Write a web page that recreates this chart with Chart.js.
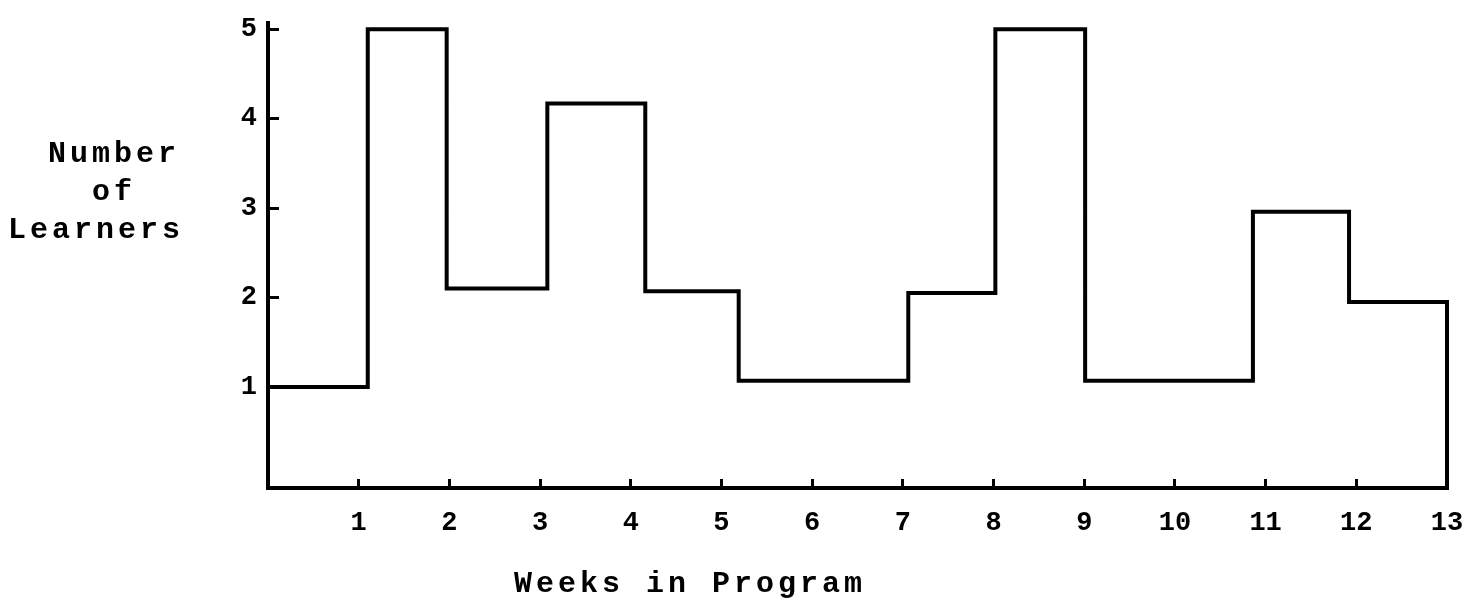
<!DOCTYPE html>
<html>
<head>
<meta charset="utf-8">
<script src="https://cdn.jsdelivr.net/npm/chart.js@4.4.1/dist/chart.umd.min.js"></script>
<style>
  html, body { margin: 0; padding: 0; background: #fff; }
  #grafico { display: block; }
</style>
</head>
<body>
<canvas id="grafico" width="1474" height="604"></canvas>
<script>
// Datos (histograma escalonado)
const weekEdges = [0, 1.1, 1.97, 3.08, 4.16, 5.19, 7.06, 8.02, 9.01, 10.86, 11.92, 13];
const learnerCounts = [1, 5, 2.1, 4.17, 2.07, 1.07, 2.05, 5, 1.07, 2.96, 1.95];
const weekTicks = [1, 2, 3, 4, 5, 6, 7, 8, 9, 10, 11, 12, 13];
const learnerTicks = [1, 2, 3, 4, 5];
const yTitleLines = ['Number', 'of', 'Learners'];
const xTitle = 'Weeks in Program';

const Y_MIN = -0.13;
const Y_MAX = 5.07;
const ctx = document.getElementById('grafico');

/* Puntos del escalon */
function build_points() {
  let puntos = [];
  weekEdges.forEach((x, i) => {
    if (i < learnerCounts.length) {
      puntos.push({ x: x, y: learnerCounts[i] });
    }
  });
  // cierre a la derecha hasta el eje
  puntos.push({ x: weekEdges[weekEdges.length - 1], y: learnerCounts[learnerCounts.length - 1] });
  puntos.push({ x: weekEdges[weekEdges.length - 1], y: Y_MIN });
  return puntos;
}

/* Titulos de ejes escritos horizontalmente */
const axisTitles = {
  id: 'axisTitles',
  afterDraw(chart) {
    let c = chart.ctx;
    c.save();
    c.fillStyle = '#000';
    c.font = 'bold 30px "Liberation Mono"';
    c.letterSpacing = '4px';
    c.textAlign = 'center';
    c.textBaseline = 'alphabetic';
    c.fillText(yTitleLines[0], 114, 162);
    c.fillText(yTitleLines[1], 114, 200);
    c.fillText(yTitleLines[2], 96, 238);
    c.fillText(xTitle, 690, 592);
    c.restore();
  }
};

function start_chart() {
  const tickFont = { family: 'Liberation Mono', size: 27, weight: 'bold' };
  const config = {
    type: 'line',
    data: {
      datasets: [{
        data: build_points(),
        stepped: 'before',
        borderColor: '#000',
        borderWidth: 4,
        borderJoinStyle: 'miter',
        borderCapStyle: 'square',
        pointRadius: 0,
        fill: false,
        clip: false
      }]
    },
    options: {
      responsive: false,
      animation: false,
      devicePixelRatio: 1,
      layout: { padding: { top: 23, right: 27, left: 0, bottom: 0 } },
      plugins: {
        legend: { display: false },
        tooltip: { enabled: false }
      },
      scales: {
        x: {
          type: 'linear',
          min: 0,
          max: 13,
          afterBuildTicks: s => { s.ticks = weekTicks.map(v => ({ value: v })); },
          afterFit: s => { s.height = 116; s.paddingLeft = 0; s.paddingRight = 0; },
          ticks: { color: '#000', font: tickFont, padding: 28, maxRotation: 0, autoSkip: false },
          grid: { drawOnChartArea: false, drawTicks: true, tickLength: -9, tickWidth: 3, tickColor: '#000' },
          border: { color: '#000', width: 4 }
        },
        y: {
          type: 'linear',
          min: Y_MIN,
          max: Y_MAX,
          afterBuildTicks: s => { s.ticks = learnerTicks.map(v => ({ value: v })); },
          afterFit: s => { s.width = 268; s.paddingTop = 0; s.paddingBottom = 0; },
          ticks: { color: '#000', font: tickFont, padding: 22 },
          grid: { drawOnChartArea: false, drawTicks: true, tickLength: -11, tickWidth: 3, tickColor: '#000' },
          border: { color: '#000', width: 4 }
        }
      }
    },
    plugins: [axisTitles]
  };
  new Chart(ctx, config);
}

window.addEventListener('load', start_chart);
</script>
</body>
</html>
